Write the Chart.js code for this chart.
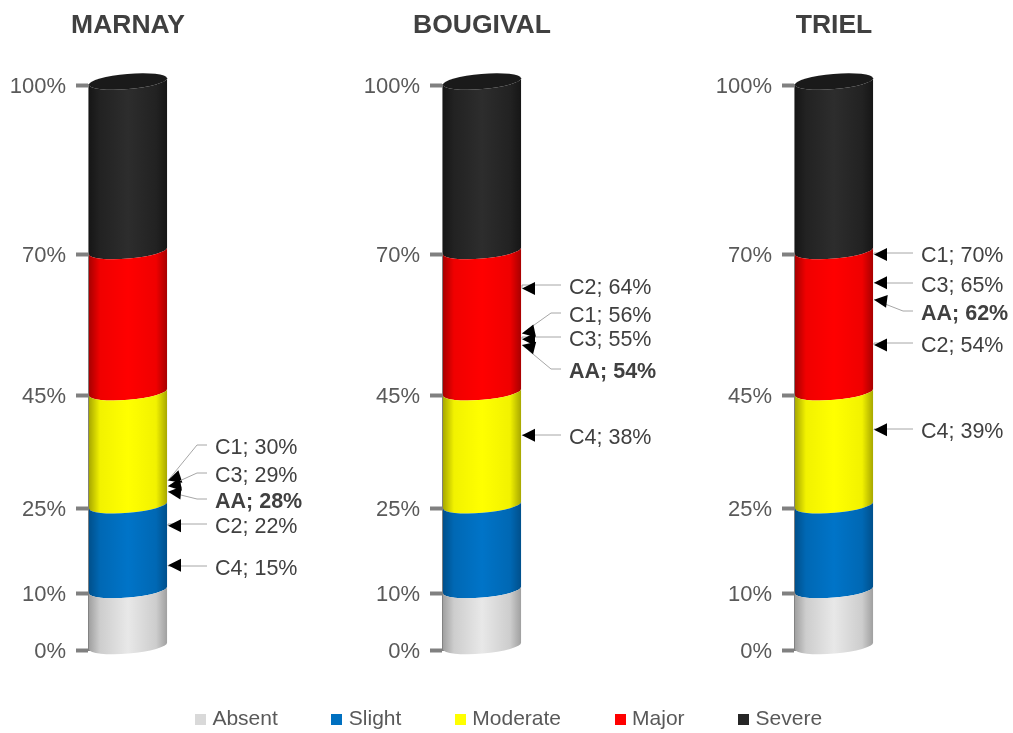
<!DOCTYPE html>
<html>
<head>
<meta charset="utf-8">
<title>Severity by site</title>
<script src="https://cdn.jsdelivr.net/npm/chart.js@4"></script>
<style>
    html, body { margin: 0; padding: 0; background: #ffffff; overflow: hidden; width: 1013px; height: 733px; }
    canvas { position: absolute; }
</style>
</head>
<body>
<canvas id="chart-marnay" width="390" height="733" style="left:-67px;top:0"></canvas>
<canvas id="chart-bougival" width="390" height="733" style="left:287px;top:0"></canvas>
<canvas id="chart-triel" width="390" height="733" style="left:639px;top:0"></canvas>
<canvas id="chart-legend" width="1013" height="170" style="left:4px;top:651px"></canvas>
<script>
// Data
const severityNames = ['Absent', 'Slight', 'Moderate', 'Major', 'Severe'];
const severityValues = [10, 15, 20, 25, 30];
const tickValues = [0, 10, 25, 45, 70, 100];
const markerNames = ['C1', 'C2', 'C3', 'C4', 'AA'];
const marnayValues = [30, 22, 29, 15, 28];
const bougivalValues = [56, 64, 55, 38, 54];
const trielValues = [70, 54, 65, 39, 62];

// Styles
const legendColors = ['#d9d9d9', '#0070c0', '#ffff00', '#ff0000', '#262626'];
const cylinderShades = [
    ['#a0a0a0', '#cdcdcd', '#e8e8e8'],
    ['#00508c', '#0068b4', '#0074c8'],
    ['#a8a800', '#f2f200', '#ffff00'],
    ['#a80000', '#f00000', '#ff0000'],
    ['#161616', '#222222', '#2d2d2d']
];
const fontFamily = '"Liberation Sans", Arial, sans-serif';

// Height of each marker label on the page, same order as markerNames
const marnayLabelRows = [447, 526, 475, 568, 501];
const bougivalLabelRows = [315, 287, 339, 437, 371];
const trielLabelRows = [255, 345, 285, 431, 313];

/**
 * Paint the stacked bars as slanted cylinder slices
 */
const cylinderPlugin = {
    id: 'cylinder',
    beforeDatasetDraw(chart, args) {
        const ctx = chart.ctx;
        const bar = args.meta.data[0];
        const halfWidth = bar.width / 2;
        const rx = halfWidth + 0.2;
        const ry = 7.5;
        const tilt = -0.085;
        const lift = 3.5;
        const shades = cylinderShades[args.index];
        const gradient = ctx.createLinearGradient(bar.x - halfWidth, 0, bar.x + halfWidth, 0);
        gradient.addColorStop(0, shades[0]);
        gradient.addColorStop(0.14, shades[1]);
        gradient.addColorStop(0.5, shades[2]);
        gradient.addColorStop(0.86, shades[1]);
        gradient.addColorStop(1, shades[0]);

        ctx.save();
        ctx.fillStyle = gradient;
        ctx.beginPath();
        ctx.ellipse(bar.x, bar.base - lift, rx, ry, tilt, Math.PI, 0, true);
        ctx.ellipse(bar.x, bar.y - lift, rx, ry, tilt, 0, Math.PI, false);
        ctx.closePath();
        ctx.fill();

        // Top lid on the last slice
        if (args.index === severityNames.length - 1) {
            ctx.fillStyle = '#1a1a1a';
            ctx.beginPath();
            ctx.ellipse(bar.x, bar.y - lift, rx, ry, tilt, 0, Math.PI * 2);
            ctx.fill();
        }
        ctx.restore();
        return false;
    }
};

/**
 * Arrows and labels for the markers of one site
 */
const markerPlugin = {
    id: 'markers',
    afterDraw(chart, args, options) {
        const ctx = chart.ctx;
        const barRight = chart.getDatasetMeta(0).data[0].x + chart.getDatasetMeta(0).data[0].width / 2;
        const tipX = barRight + 1;
        const labelX = barRight + 48;

        ctx.save();
        markerNames.forEach((name, i) => {
            const tipY = chart.scales.y.getPixelForValue(options.values[i]);
            const rowY = options.rows[i];
            const lineEndX = labelX - 8;
            const lineEndY = rowY - 2;
            const needsElbow = Math.abs(lineEndY - tipY) > 5;
            const elbowX = needsElbow ? labelX - 18 : tipX;
            const elbowY = lineEndY;

            // Leader line
            ctx.strokeStyle = '#a6a6a6';
            ctx.lineWidth = 1;
            ctx.beginPath();
            ctx.moveTo(tipX, tipY);
            ctx.lineTo(elbowX, elbowY);
            ctx.lineTo(lineEndX, lineEndY);
            ctx.stroke();

            // Arrow head, only slightly turned towards its leader
            const angle = needsElbow ? Math.atan2(elbowY - tipY, elbowX - tipX) * 0.35 : 0;
            ctx.save();
            ctx.translate(tipX, tipY);
            ctx.rotate(angle);
            ctx.fillStyle = '#000000';
            ctx.beginPath();
            ctx.moveTo(0, 0);
            ctx.lineTo(13, -6.5);
            ctx.lineTo(13, 6.5);
            ctx.closePath();
            ctx.fill();
            ctx.restore();

            // Label
            ctx.fillStyle = '#404040';
            ctx.font = (name === 'AA' ? 'bold ' : '') + '21.5px ' + fontFamily;
            ctx.textAlign = 'left';
            ctx.textBaseline = 'middle';
            ctx.fillText(name + '; ' + options.values[i] + '%', labelX, rowY + 1.5);
        });
        ctx.restore();
    }
};

function buildDatasets() {
    return severityNames.map((name, i) => ({
        label: name,
        data: [severityValues[i]],
        backgroundColor: legendColors[i],
        barPercentage: 1,
        categoryPercentage: 1
    }));
}

/**
 * One cylinder with its axis. The two empty categories keep the cylinder
 * in the middle of the canvas, right under the title.
 */
function createSiteChart(canvasId, title, values, rows) {
    return new Chart(document.getElementById(canvasId), {
        type: 'bar',
        data: {
            labels: [title, '', ''],
            datasets: buildDatasets()
        },
        plugins: [cylinderPlugin, markerPlugin],
        options: {
            responsive: false,
            animation: false,
            layout: { padding: { top: 0, right: 0, bottom: 83, left: 0 } },
            plugins: {
                legend: { display: false },
                tooltip: { enabled: false },
                title: {
                    display: true,
                    text: title,
                    color: '#404040',
                    font: { family: fontFamily, size: 26.5, weight: 'bold' },
                    padding: { top: 10, bottom: 43.2 }
                },
                markers: { values: values, rows: rows }
            },
            scales: {
                x: { display: false, stacked: true },
                y: {
                    stacked: true,
                    min: 0,
                    max: 100,
                    afterBuildTicks(scale) {
                        scale.ticks = tickValues.map(value => ({ value: value }));
                    },
                    afterFit(scale) {
                        scale.width = 156;
                    },
                    grid: {
                        drawOnChartArea: false,
                        tickLength: 13,
                        tickWidth: 4,
                        tickColor: '#808080'
                    },
                    border: { color: '#808080', width: 2 },
                    ticks: {
                        autoSkip: false,
                        padding: 10,
                        labelOffset: 1.5,
                        color: '#595959',
                        font: { family: fontFamily, size: 22 },
                        callback: value => value + '%'
                    }
                }
            }
        }
    });
}

/**
 * Shared legend. The square is a small canvas so it can sit closer to its text.
 */
function legendSquare(color) {
    const square = document.createElement('canvas');
    square.width = 11;
    square.height = 11;
    const ctx = square.getContext('2d');
    ctx.fillStyle = color;
    ctx.fillRect(0, 0, 11, 11);
    return square;
}

function createLegendChart() {
    return new Chart(document.getElementById('chart-legend'), {
        type: 'bar',
        data: {
            labels: [''],
            datasets: severityNames.map((name, i) => ({
                label: name,
                data: [],
                backgroundColor: legendColors[i]
            }))
        },
        options: {
            responsive: false,
            animation: false,
            plugins: {
                tooltip: { enabled: false },
                legend: {
                    display: true,
                    position: 'top',
                    labels: {
                        usePointStyle: true,
                        boxWidth: 3,
                        boxHeight: 11,
                        padding: 57.5,
                        color: '#595959',
                        font: { family: fontFamily, size: 21 },
                        generateLabels(chart) {
                            return Chart.defaults.plugins.legend.labels.generateLabels(chart).map((item, i) => {
                                item.pointStyle = legendSquare(legendColors[i]);
                                return item;
                            });
                        }
                    }
                }
            },
            scales: {
                x: { display: false },
                y: { display: false }
            }
        }
    });
}

createSiteChart('chart-marnay', 'MARNAY', marnayValues, marnayLabelRows);
createSiteChart('chart-bougival', 'BOUGIVAL', bougivalValues, bougivalLabelRows);
createSiteChart('chart-triel', 'TRIEL', trielValues, trielLabelRows);
createLegendChart();
</script>
</body>
</html>
